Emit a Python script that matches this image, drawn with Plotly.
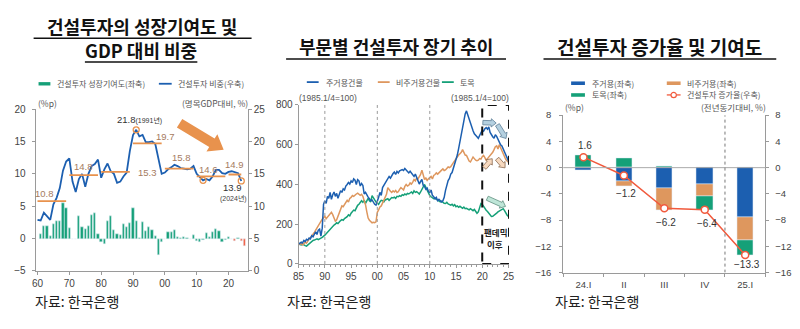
import math
import plotly.graph_objects as go

W, H = 800, 329
def px(x): return x / W
def py(y): return 1 - y / H

KR = "Noto Sans CJK KR"
NUM = "Liberation Sans, Noto Sans CJK KR"

# ---------------- Panel 1 data ----------------
contrib_years = list(range(1961, 2026))
contrib = [0.75, 1.9, 1.9, 0.4, 2.3, 2.75, 2.65, 5.5, 4.75, 1.65,
           -0.1, -0.15, 3.5, 1.75, 1.4, 1.9, 3.6, 3.9, 0.75, -0.6,
           -0.85, 2.65, 3.5, 1.25, 0.65, 0.6, 2.25, 1.8, 2.4, 4.75,
           2.65, 0.1, 2.6, 1.1, 1.7, 1.3, 0.4, -2.6, -0.6, 0.0,
           1.0, 1.0, 1.35, 0.25, 0.05, 0.2, 0.15, -0.1, 0.6, -0.4,
           -0.5, -0.3, 0.9, 0.3, 1.0, 1.4, 1.1, -0.6, -0.2, 0.2,
           -0.05, -0.35, 0.15, -0.35, -1.2]
share_years = list(range(1960, 2025))
share = [7.9, 7.8, 9.0, 8.5, 7.9, 10.3, 11.3, 12.8, 15.5, 16.9,
         17.4, 13.8, 12.2, 14.2, 15.0, 13.0, 15.0, 16.2, 16.5, 17.2,
         14.4, 15.7, 16.6, 15.4, 15.0, 13.6, 13.8, 14.6, 15.2, 18.5,
         21.0, 21.8, 20.8, 21.0, 19.9, 19.9, 20.0, 19.6, 17.5, 15.0,
         15.2, 15.7, 16.0, 16.4, 16.2, 15.9, 15.8, 15.7, 15.8, 16.2,
         15.0, 14.5, 14.0, 14.2, 14.0, 14.6, 15.6, 15.6, 15.1, 15.0,
         15.3, 15.4, 15.3, 15.1, 13.9]
avg_start = [1960, 1970, 1980, 1990, 2000, 2010, 2020]
avg_end = [1969, 1979, 1989, 1999, 2009, 2019, 2024]
avg_val = [10.8, 14.8, 15.3, 19.7, 15.8, 14.6, 14.9]
mark_years = [1991, 2012, 2024]

# ---------------- Panel 2 data (quarterly, 1985Q1-2025Q1) ----------------
residential = [
    100, 104, 110, 106, 118, 112, 124, 120, 130, 126, 142, 136, 150, 162, 148, 170,
    175, 140, 180, 300, 318, 305, 340, 330, 360, 325, 348, 362, 340, 355, 330, 352,
    368, 360, 378, 372, 392, 400, 410, 402, 418, 410, 428, 422, 400, 424, 418, 392,
    405, 395, 352, 360, 345, 336, 328, 318, 322, 310, 300, 296, 312, 335, 360, 345,
    384, 395, 410, 416, 425, 440, 432, 446, 455, 462, 450, 466, 458, 468, 472, 475,
    470, 480, 473, 464, 458, 466, 455, 448, 440, 452, 438, 420, 402, 415, 425, 395,
    390, 376, 382, 365, 360, 372, 345, 338, 328, 335, 318, 325, 320, 312, 318, 335,
    370, 400, 420, 430, 452, 460, 480, 505, 530, 548, 580, 620, 640, 680, 720, 755,
    770, 750, 728, 705, 688, 670, 655, 645, 640, 632, 650, 660, 672, 668, 680, 686,
    678, 690, 662, 648, 640, 632, 650, 642, 625, 615, 600, 594, 578, 570, 548, 536,
    518]
nonresidential = [
    100, 98, 104, 96, 102, 110, 105, 118, 125, 132, 140, 150, 158, 170, 182, 192,
    200, 215, 225, 232, 240, 228, 236, 245, 252, 260, 248, 235, 215, 222, 240, 262,
    275, 292, 288, 300, 315, 320, 312, 330, 335, 344, 340, 348, 352, 356, 350, 345,
    350, 340, 318, 298, 262, 231, 220, 212, 207, 210, 208, 212, 260, 272, 287, 292,
    305, 320, 335, 350, 384, 372, 366, 360, 368, 362, 370, 360, 364, 375, 384, 378,
    372, 390, 400, 392, 396, 408, 402, 412, 425, 418, 432, 428, 441, 450, 472, 440,
    425, 432, 420, 428, 433, 440, 428, 445, 450, 458, 452, 460, 465, 472, 478, 470,
    473, 480, 488, 485, 489, 500, 510, 522, 530, 540, 548, 555, 562, 575, 560, 548,
    546, 530, 518, 513, 525, 538, 530, 522, 520, 522, 530, 528, 540, 546, 535, 522,
    530, 538, 545, 555, 562, 575, 590, 594, 578, 600, 585, 562, 550, 538, 525, 518,
    512]
civil = [
    100, 98, 96, 100, 95, 92, 90, 96, 104, 110, 113, 118, 120, 124, 126, 122,
    128, 130, 134, 138, 145, 152, 160, 168, 175, 182, 191, 196, 200, 207, 203, 212,
    218, 223, 220, 228, 231, 238, 247, 242, 255, 262, 271, 268, 285, 295, 300, 312,
    318, 310, 320, 305, 320, 330, 318, 312, 344, 330, 322, 312, 304, 300, 312, 320,
    318, 312, 322, 326, 328, 320, 330, 334, 332, 336, 330, 340, 338, 344, 340, 348,
    345, 352, 348, 355, 352, 358, 362, 355, 368, 360, 364, 358, 352, 362, 375, 392,
    400, 385, 368, 360, 344, 338, 332, 328, 330, 325, 318, 315, 312, 316, 308, 305,
    304, 310, 302, 300, 296, 300, 292, 298, 288, 292, 285, 290, 284, 280, 286, 278,
    280, 276, 272, 278, 271, 268, 274, 262, 255, 262, 288, 304, 300, 288, 282, 270,
    264, 255, 246, 239, 240, 244, 250, 256, 262, 266, 270, 274, 278, 268, 255, 245,
    239]
q_x = [1985 + i / 4 for i in range(len(residential))]
p2_ticks = [1985, 1990, 1995, 2000, 2005, 2010, 2015, 2020, 2025]
p2_ticktext = ["85", "90", "95", "00", "05", "10", "15", "20", "25"]

# ---------------- Panel 3 data ----------------
cats = ["24.I", "II", "III", "IV", "25.I"]
c_res = [-0.4, -2.0, -3.1, -2.5, -7.55]
c_nonres = [0.0, -0.8, -3.4, -1.9, -3.45]
c_civil = [1.85, 1.5, 0.25, -2.05, -2.3]
growth = [1.6, -1.2, -6.2, -6.4, -13.3]

# ---------------- colours ----------------
BLUE = "#1c5fb0"
ORANGE = "#de975e"
GREEN = "#15a078"
RED = "#f15a3d"
AVG = "#e8924d"
BROWN = "#a57b5e"
TICK = "#444444"
AX = "#9a9a9a"

fig = go.Figure()

# Panel 1
bar_colors = [RED if (y >= 2021 and v < 0) else GREEN for y, v in zip(contrib_years, contrib)]
fig.add_trace(go.Bar(x=contrib_years, y=contrib, marker_color=bar_colors, width=0.7,
                     xaxis="x", yaxis="y", showlegend=False))
fig.add_trace(go.Scatter(x=share_years, y=share, mode="lines", line=dict(color=BLUE, width=1.8),
                         xaxis="x", yaxis="y2", showlegend=False))
seg_x, seg_y = [], []
for s, e, v in zip(avg_start, avg_end, avg_val):
    seg_x += [s, e, None]
    seg_y += [v, v, None]
fig.add_trace(go.Scatter(x=seg_x, y=seg_y, mode="lines", line=dict(color=AVG, width=1.8),
                         xaxis="x", yaxis="y2", showlegend=False, connectgaps=False))
fig.add_trace(go.Scatter(x=mark_years, y=[share[share_years.index(y)] for y in mark_years],
                         mode="markers", marker=dict(symbol="circle-open", size=6, color=AVG, line=dict(width=1.3)),
                         xaxis="x", yaxis="y2", showlegend=False))

# Panel 2
for ser, col in [(civil, GREEN), (nonresidential, ORANGE), (residential, BLUE)]:
    fig.add_trace(go.Scatter(x=q_x, y=ser, mode="lines", line=dict(color=col, width=1.5),
                             xaxis="x2", yaxis="y3", showlegend=False))

# Panel 3
for vals, col in [(c_res, BLUE), (c_nonres, ORANGE), (c_civil, GREEN)]:
    fig.add_trace(go.Bar(x=cats, y=vals, marker_color=col, width=0.4,
                         xaxis="x3", yaxis="y5", showlegend=False))
fig.add_trace(go.Scatter(x=cats, y=growth, mode="lines+markers",
                         line=dict(color=RED, width=1.5),
                         marker=dict(symbol="circle", size=7, color="white", line=dict(color=RED, width=1.5)),
                         xaxis="x3", yaxis="y6", showlegend=False))

tickfont = dict(family=NUM, size=10, color=TICK)
axbase = dict(showgrid=False, zeroline=False, showline=True, linecolor=AX, linewidth=1,
              ticks="outside", ticklen=3, tickcolor=AX, tickfont=tickfont, fixedrange=True)

fig.update_layout(
    width=W, height=H, margin=dict(l=0, r=0, t=0, b=0),
    paper_bgcolor="white", plot_bgcolor="white", barmode="relative", bargap=0,
    xaxis=dict(axbase, domain=[px(30), px(245)], range=[1959.4, 2026], anchor="y",
               tickvals=[1960, 1970, 1980, 1990, 2000, 2010, 2020],
               ticktext=["60", "70", "80", "90", "00", "10", "20"]),
    yaxis=dict(axbase, domain=[py(275), py(107)], range=[-5, 20], dtick=5, anchor="x",
               ticklabelstandoff=4),
    yaxis2=dict(axbase, overlaying="y", side="right", range=[0, 25], dtick=5, anchor="x"),
    xaxis2=dict(axbase, domain=[px(296.7), px(510)], range=[1985, 2025.1], anchor="y3",
                tickvals=p2_ticks, ticktext=p2_ticktext,
                minor=dict(dtick=1, tick0=1985, ticks="outside", ticklen=2, tickcolor=AX)),
    yaxis3=dict(axbase, domain=[py(267.7), py(102.7)], range=[0, 800], dtick=200, anchor="x2"),
    yaxis4=dict(axbase, overlaying="y3", side="right", range=[0, 800], dtick=200, anchor="x2",
                linecolor="#333", tickcolor="#333"),
    xaxis3=dict(axbase, domain=[px(565), px(770)], anchor="y5", type="category",
                tickson="boundaries", ticklabelstandoff=3,
                tickfont=dict(family=NUM, size=9.5, color=TICK)),
    yaxis5=dict(axbase, domain=[py(276.7), py(113.3)], range=[-16, 8], dtick=4, anchor="x3",
                ticklabelstandoff=6, tickfont=dict(family=NUM, size=9.5, color=TICK)),
    yaxis6=dict(axbase, overlaying="y5", side="right", range=[-16, 8], dtick=4, anchor="x3",
                ticklabelstandoff=4, tickfont=dict(family=NUM, size=9.5, color=TICK)),
)

shapes = []
ann = []

def text(x, y, s, size=8, color="#555", xanchor="left", family=KR, bold=False, yanchor="middle"):
    ann.append(dict(x=px(x), y=py(y), xref="paper", yref="paper", text=(f"<b>{s}</b>" if bold else s),
                    showarrow=False, xanchor=xanchor, yanchor=yanchor,
                    font=dict(family=family, size=size, color=color)))

def hline(x0, x1, y, color, width):
    shapes.append(dict(type="line", xref="paper", yref="paper", x0=px(x0), x1=px(x1), y0=py(y), y1=py(y),
                       line=dict(color=color, width=width)))

def rect(x0, y0, x1, y1, color):
    shapes.append(dict(type="rect", xref="paper", yref="paper", x0=px(x0), x1=px(x1), y0=py(y0), y1=py(y1),
                       fillcolor=color, line=dict(width=0)))

def block_arrow(x0, y0, x1, y1, shaft, head_w, head_l, fill, outline=None, lw=0.8):
    dx, dy = x1 - x0, y1 - y0
    L = math.hypot(dx, dy)
    ux, uy = dx / L, dy / L
    nx, ny = -uy, ux
    bx, by = x1 - ux * head_l, y1 - uy * head_l
    pts = [(x0 + nx * shaft, y0 + ny * shaft), (bx + nx * shaft, by + ny * shaft),
           (bx + nx * head_w, by + ny * head_w), (x1, y1),
           (bx - nx * head_w, by - ny * head_w), (bx - nx * shaft, by - ny * shaft),
           (x0 - nx * shaft, y0 - ny * shaft)]
    path = "M " + " L ".join(f"{px(a):.5f},{py(b):.5f}" for a, b in pts) + " Z"
    shapes.append(dict(type="path", xref="paper", yref="paper", path=path, fillcolor=fill,
                       line=dict(color=outline if outline else fill, width=lw if outline else 0)))

# Titles
TS = 18
text(138, 21, "건설투자의 성장기여도 및", TS, "#111", "center", bold=True)
text(137, 46, "GDP 대비 비중", TS, "#111", "center", bold=True)
text(395, 42, "부문별 건설투자 장기 추이", TS, "#111", "center", bold=True)
text(663, 42, "건설투자 증가율 및 기여도", TS + 1, "#111", "center", bold=True)
hline(28, 249, 33.5, "#111", 1.5)
hline(80, 194, 58, "#111", 1.5)
hline(284, 507, 55, "#111", 1.5)
hline(545, 781, 55, "#111", 1.5)

# Source
for x in (27, 283, 555):
    text(x, 306, "자료: 한국은행", 14, "#222", "left")

# Panel 1 legend and units
rect(33, 79, 45, 82.5, GREEN)
text(50, 80.7, "건설투자 성장기여도(좌축)")
hline(155, 168, 80.7, BLUE, 1.8)
text(172, 80.7, "건설투자 비중(우축)")
text(30, 101, "(%p)", 8.5, "#555", "left")
text(247, 101, "(명목GDP대비, %)", 8.5, "#555", "right")

# Panel 1 average labels
avg_lab_pos = [(39, 195, "center"), (79, 167, "center"), (132, 173, "left"), (162, 135, "center"),
               (178, 157, "center"), (205, 170, "center"), (232, 165, "center")]
for (x, y, xa), v in zip(avg_lab_pos, avg_val):
    text(x, y, f"{v:.1f}", 9.5, BROWN, xa, family=NUM)
text(135, 118, "21.8<span style='font-size:7px'>(1991년)</span>", 9.5, "#333", "center", family=NUM)
text(230, 188, "13.9", 9.5, "#333", "center", family=NUM)
text(231, 199.5, "(2024년)", 7, "#444", "center", family=NUM)
block_arrow(176, 121.7, 220.7, 149.3, 5.2, 10.5, 14, AVG)

# Panel 2 legend and units
hline(305, 317, 79, BLUE, 1.8)
text(322, 79, "주거용건물")
hline(377, 389, 79, ORANGE, 1.8)
text(393, 79, "비주거용건물")
hline(442, 454, 79, GREEN, 1.8)
text(458, 79, "토목")
text(295, 95, "(1985.1/4=100)", 8.5, "#555", "left", family=NUM)
text(512, 95, "(1985.1/4=100)", 8.5, "#555", "right", family=NUM)
for yr in (1990, 2000, 2010):
    shapes.append(dict(type="line", xref="x2", yref="y3", x0=yr, x1=yr, y0=0, y1=800,
                       line=dict(color="#999", width=1, dash="dot")))
shapes.append(dict(type="rect", xref="x2", yref="y3", x0=2020, x1=2025.1, y0=0, y1=800,
                   line=dict(color="#111", width=2, dash="dash")))
text(496, 235, "팬데믹", 8.5, "#222", "center", bold=True)
text(496, 247, "이후", 8.5, "#222", "center", bold=True)
block_arrow(483.5, 121, 497, 121.5, 2.3, 4.3, 5, "#b4d0e0", "#5d7d95")
block_arrow(498.3, 123.3, 507, 137.5, 2.3, 4.3, 5, "#b4d0e0", "#5d7d95")
block_arrow(485, 168, 493, 158.5, 2.3, 4.3, 5, "#f7d9bf", "#8a6a50")
block_arrow(498, 158.5, 506, 168, 2.3, 4.3, 5, "#f7d9bf", "#8a6a50")
block_arrow(488, 199.5, 506.5, 208, 2.3, 4.3, 5, "#bfe6d8", "#5f8f80")

# Panel 3 legend and units
rect(573, 78.3, 587, 82, BLUE)
text(592, 80, "주거용(좌축)")
rect(670, 78.3, 684, 82, ORANGE)
text(688, 80, "비주거용(좌축)")
rect(573, 90.5, 587, 94.2, GREEN)
text(592, 92.3, "토목(좌축)")
hline(670, 684, 92.3, RED, 1.3)
shapes.append(dict(type="circle", xref="paper", yref="paper", x0=px(674.3), x1=px(679.7),
                   y0=py(95), y1=py(89.6), fillcolor="white", line=dict(color=RED, width=1.2)))
text(688, 92.3, "건설투자 증가율(우축)")
text(565, 105, "(%p)", 8.5, "#555", "left")
text(773, 105, "(전년동기대비, %)", 8.5, "#555", "right")
shapes.append(dict(type="line", xref="paper", yref="y5", x0=px(565), x1=px(770), y0=0, y1=0,
                   line=dict(color="#aaa", width=1)))
shapes.append(dict(type="line", xref="x3", yref="y5", x0=3.5, x1=3.5, y0=-16, y1=8,
                   line=dict(color="#777", width=1, dash="dot")))
g_shift = [12, -18, -14, -14, -10]
for c, v, s in zip(cats, growth, g_shift):
    ann.append(dict(x=c, y=v, xref="x3", yref="y6", text=f"{v:.1f}".replace("-", "\u2212"),
                    showarrow=False, yshift=s, xshift=2, font=dict(family=NUM, size=10, color="#333")))

fig.update_layout(shapes=shapes, annotations=ann)
fig.write_html("out.html")
